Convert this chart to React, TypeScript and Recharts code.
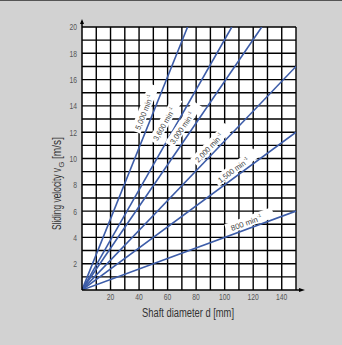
import React from 'react';
import { LineChart, Line, XAxis, YAxis, CartesianGrid, ReferenceDot, Label } from 'recharts';

const speedLabels = ['5,000', '3,600', '3,000', '2,000', '1,500', '800'];
const endDiameter = [74, 105, 126, 150, 150, 150];
const endVelocity = [20, 20, 20, 17, 12, 6];
const labelDiameter = [43.5, 57.5, 70, 89, 106, 115];
const labelVelocity = [13.5, 12.6, 12.3, 10.8, 9.1, 5.1];

const xTicks = [20, 40, 60, 80, 100, 120, 140];
const yTicks = [2, 4, 6, 8, 10, 12, 14, 16, 18, 20];
const xGrid = [10, 20, 30, 40, 50, 60, 70, 80, 90, 100, 110, 120, 130, 140, 150];
const yGrid = [1, 2, 3, 4, 5, 6, 7, 8, 9, 10, 11, 12, 13, 14, 15, 16, 17, 18, 19, 20];

const W = 342;
const H = 345;
const M = { top: 27, right: 46, bottom: 25, left: 52 };
const YW = 30;
const XH = 30;
const plotW = W - M.left - YW - M.right;
const plotH = H - M.top - M.bottom - XH;
const X_MAX = 150;
const Y_MAX = 20;

const FONT = "'Liberation Sans', Arial, sans-serif";
const LINE_COLOR = '#3c5ca8';

const series = speedLabels.map((s, i) => ({
  name: s,
  data: [
    { d: 0, v: 0 },
    { d: endDiameter[i], v: endVelocity[i] },
  ],
}));

const SpeedTag = (props: any) => {
  const { cx, cy, idx } = props;
  const angle = (Math.atan((endVelocity[idx] / Y_MAX * plotH) / (endDiameter[idx] / X_MAX * plotW)) * 180) / Math.PI;
  const len = speedLabels[idx].length > 3 ? 32 : 28;
  return (
    <g transform={`translate(${cx},${cy}) rotate(${-angle})`}>
      <rect x={-21} y={-6} width={50} height={10.5} fill="#ffffff" />
      <text
        x={-len / 2 - 2}
        y={2.8}
        fontSize={7.8}
        fill="#444"
        fontFamily={FONT}
        textLength={len}
        lengthAdjust="spacingAndGlyphs"
      >
        {speedLabels[idx]} min
      </text>
      <text x={len / 2 - 1.5} y={-0.8} fontSize={4.5} fill="#444" fontFamily={FONT}>
        -1
      </text>
    </g>
  );
};

const UpArrow = (props: any) => {
  const { cx, cy } = props;
  return (
    <g>
      <line x1={cx} y1={cy} x2={cx} y2={cy - 6} stroke="#000" strokeWidth={1.5} />
      <path d={`M${cx - 2},${cy - 3} L${cx},${cy - 8} L${cx + 2},${cy - 3} Z`} fill="#000" />
    </g>
  );
};

const RightArrow = (props: any) => {
  const { cx, cy } = props;
  return (
    <g>
      <line x1={cx} y1={cy} x2={cx + 6} y2={cy} stroke="#000" strokeWidth={1.5} />
      <path d={`M${cx + 3},${cy - 2} L${cx + 9},${cy} L${cx + 3},${cy + 2} Z`} fill="#000" />
    </g>
  );
};

const XTitle = (props: any) => {
  const vb = props.viewBox || {};
  const cx = vb.x + vb.width / 2 - 1;
  return (
    <text
      x={cx - 46}
      y={317}
      fontSize={12.5}
      fill="#333"
      fontFamily={FONT}
      textLength={92}
      lengthAdjust="spacingAndGlyphs"
    >
      Shaft diameter d [mm]
    </text>
  );
};

const YTitle = () => {
  const x = 61;
  const y = 230;
  return (
    <g transform={`rotate(-90, ${x}, ${y})`}>
      <text x={x} y={y} fontSize={12.5} fill="#333" fontFamily={FONT} textLength={62} lengthAdjust="spacingAndGlyphs">
        Sliding velocity v
      </text>
      <text x={x + 62.5} y={y + 3} fontSize={7.5} fill="#333" fontFamily={FONT}>
        G
      </text>
      <text x={x + 71} y={y} fontSize={12.5} fill="#333" fontFamily={FONT} textLength={22} lengthAdjust="spacingAndGlyphs">
        [m/s]
      </text>
    </g>
  );
};

const TickText = (props: any) => {
  const { x, y, payload, textAnchor, vertical } = props;
  return (
    <text
      x={x}
      y={y}
      dy={vertical ? 3.5 : 7}
      textAnchor={textAnchor}
      fontSize={9}
      fill="#555"
      fontFamily={FONT}
      transform={`translate(${x},0) scale(0.75,1) translate(${-x},0)`}
    >
      {payload.value}
    </text>
  );
};

export default function App() {
  return (
    <div
      style={{
        position: 'absolute',
        left: 0,
        top: 0,
        width: W,
        height: H,
        background: '#d2d2d2',
        borderTop: '1px solid #555',
        boxSizing: 'border-box',
      }}
    >
      <div style={{ position: 'absolute', left: 0, top: -1 }}>
        <LineChart width={W} height={H} margin={M}>
          <CartesianGrid
            stroke="#000"
            strokeWidth={1.4}
            horizontalValues={yGrid}
            verticalValues={xGrid}
            fill="#ffffff"
            fillOpacity={1}
          />
          <XAxis
            type="number"
            dataKey="d"
            domain={[0, X_MAX]}
            ticks={xTicks}
            interval={0}
            allowDataOverflow
            height={XH}
            axisLine={{ stroke: '#000', strokeWidth: 1.5 }}
            tickLine={false}
            tickSize={0}
            tickMargin={3}
            tick={<TickText />}
          >
            <Label content={<XTitle />} />
          </XAxis>
          <YAxis
            type="number"
            dataKey="v"
            domain={[0, Y_MAX]}
            ticks={yTicks}
            interval={0}
            allowDataOverflow
            width={YW}
            axisLine={{ stroke: '#000', strokeWidth: 1.5 }}
            tickLine={false}
            tickSize={0}
            tickMargin={5}
            tick={<TickText vertical />}
          >
            <Label content={<YTitle />} />
          </YAxis>
          {series.map((s) => (
            <Line
              key={s.name}
              data={s.data}
              dataKey="v"
              stroke={LINE_COLOR}
              strokeWidth={1.6}
              dot={false}
              activeDot={false}
              isAnimationActive={false}
            />
          ))}
          {speedLabels.map((s, i) => (
            <ReferenceDot
              key={s}
              x={labelDiameter[i]}
              y={labelVelocity[i]}
              r={0}
              ifOverflow="visible"
              shape={(p: any) => <SpeedTag {...p} idx={i} />}
            />
          ))}
          <ReferenceDot x={0} y={Y_MAX} r={0} ifOverflow="visible" shape={(p: any) => <UpArrow {...p} />} />
          <ReferenceDot x={X_MAX} y={0} r={0} ifOverflow="visible" shape={(p: any) => <RightArrow {...p} />} />
        </LineChart>
      </div>
    </div>
  );
}
